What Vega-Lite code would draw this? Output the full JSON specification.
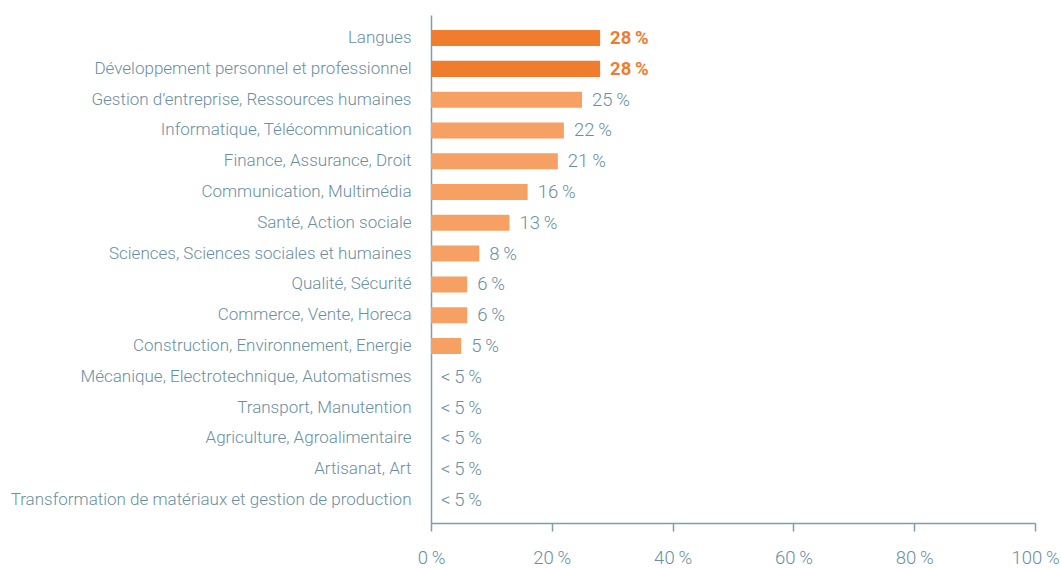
{
  "$schema": "https://vega.github.io/schema/vega-lite/v6.json",
  "width": 604,
  "height": 508,
  "autosize": {"type": "none"},
  "padding": {"left": 431, "top": 15, "right": 26, "bottom": 45},
  "background": "white",
  "config": {
    "view": {"stroke": null},
    "font": "Roboto, sans-serif"
  },
  "data": {
    "values": [
      {"cat": "Langues", "value": 28, "label": "28\u2009%", "grp": "top"},
      {"cat": "Développement personnel et professionnel", "value": 28, "label": "28\u2009%", "grp": "top"},
      {"cat": "Gestion d’entreprise, Ressources humaines", "value": 25, "label": "25\u2009%", "grp": "other"},
      {"cat": "Informatique, Télécommunication", "value": 22, "label": "22\u2009%", "grp": "other"},
      {"cat": "Finance, Assurance, Droit", "value": 21, "label": "21\u2009%", "grp": "other"},
      {"cat": "Communication, Multimédia", "value": 16, "label": "16\u2009%", "grp": "other"},
      {"cat": "Santé, Action sociale", "value": 13, "label": "13\u2009%", "grp": "other"},
      {"cat": "Sciences, Sciences sociales et humaines", "value": 8, "label": "8\u2009%", "grp": "other"},
      {"cat": "Qualité, Sécurité", "value": 6, "label": "6\u2009%", "grp": "other"},
      {"cat": "Commerce, Vente, Horeca", "value": 6, "label": "6\u2009%", "grp": "other"},
      {"cat": "Construction, Environnement, Energie", "value": 5, "label": "5\u2009%", "grp": "other"},
      {"cat": "Mécanique, Electrotechnique, Automatismes", "value": 0, "label": "<\u20095\u2009%", "grp": "other"},
      {"cat": "Transport, Manutention", "value": 0, "label": "<\u20095\u2009%", "grp": "other"},
      {"cat": "Agriculture, Agroalimentaire", "value": 0, "label": "<\u20095\u2009%", "grp": "other"},
      {"cat": "Artisanat, Art", "value": 0, "label": "<\u20095\u2009%", "grp": "other"},
      {"cat": "Transformation de matériaux et gestion de production", "value": 0, "label": "<\u20095\u2009%", "grp": "other"}
    ]
  },
  "encoding": {
    "y": {
      "field": "cat",
      "type": "nominal",
      "sort": null,
      "title": null,
      "scale": {"paddingInner": 0.48, "paddingOuter": 0.49},
      "axis": {
        "domainColor": "#7d9db0",
        "domainWidth": 1.5,
        "ticks": false,
        "labelPadding": 20,
        "labelFontSize": 17,
        "labelFontWeight": 300,
        "labelColor": "#6a8fa4",
        "labelLimit": 500
      }
    },
    "x": {
      "field": "value",
      "type": "quantitative",
      "title": null,
      "scale": {"domain": [0, 100], "nice": false},
      "axis": {
        "values": [0, 20, 40, 60, 80, 100],
        "grid": false,
        "domainColor": "#7d9db0",
        "domainWidth": 1.5,
        "tickColor": "#7d9db0",
        "tickWidth": 1.5,
        "tickSize": 8,
        "labelPadding": 17,
        "labelFlush": false,
        "labelOverlap": false,
        "labelFontSize": 18.5,
        "labelFontWeight": 300,
        "labelColor": "#6a8fa4",
        "labelExpr": "datum.value + '\u2009%'"
      }
    }
  },
  "layer": [
    {
      "mark": {"type": "bar"},
      "encoding": {
        "color": {
          "field": "grp",
          "type": "nominal",
          "legend": null,
          "scale": {"domain": ["top", "other"], "range": ["#f07c2d", "#f6a064"]}
        }
      }
    },
    {
      "transform": [{"filter": "datum.grp === 'top'"}],
      "mark": {"type": "text", "align": "left", "dx": 10, "fontSize": 18.5, "fontWeight": "bold", "color": "#f07c2d"},
      "encoding": {"text": {"field": "label"}}
    },
    {
      "transform": [{"filter": "datum.grp === 'other'"}],
      "mark": {"type": "text", "align": "left", "dx": 10, "fontSize": 18.5, "fontWeight": 300, "color": "#6a8fa4"},
      "encoding": {"text": {"field": "label"}}
    }
  ]
}
